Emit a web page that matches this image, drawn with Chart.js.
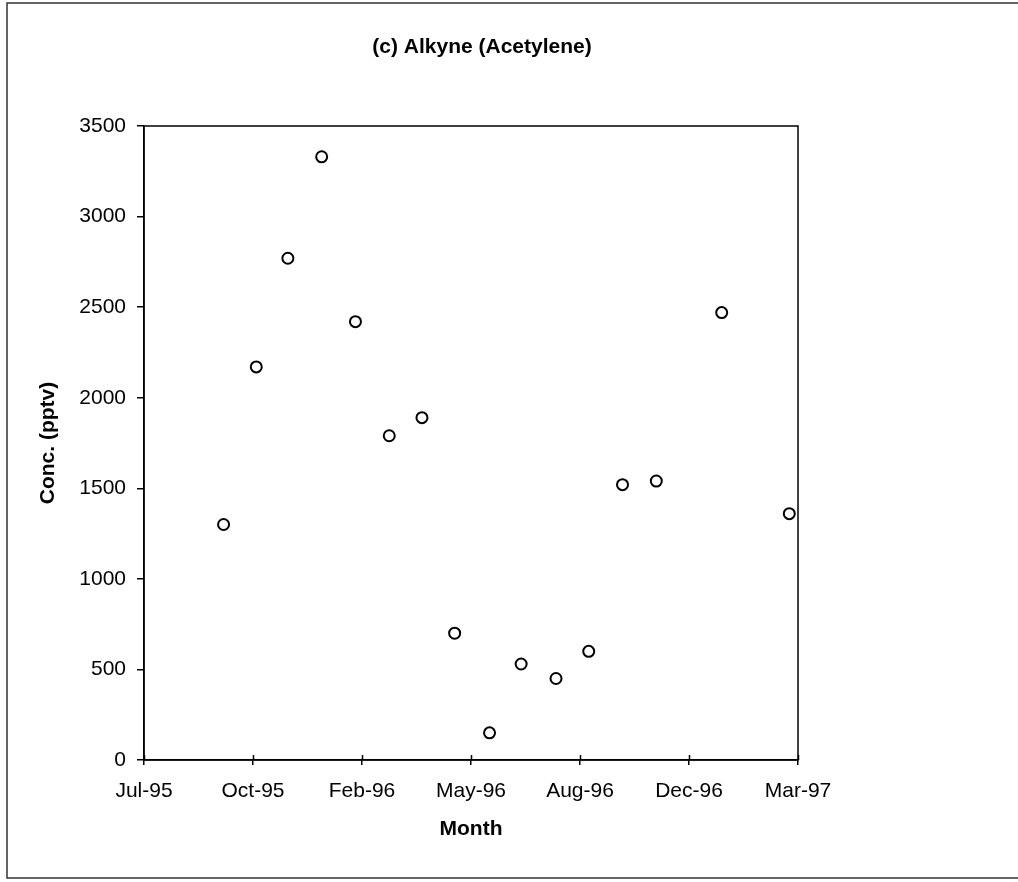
<!DOCTYPE html>
<html>
<head>
<meta charset="utf-8">
<script src="https://cdn.jsdelivr.net/npm/chart.js@4/dist/chart.umd.min.js"></script>
<style>
  html, body { margin: 0; padding: 0; background: #fff; }
  #wrap { width: 1018px; height: 882px; }
</style>
</head>
<body>
<div id="wrap"><canvas id="chart" width="1018" height="882"></canvas></div>
<script>
// days after the Jul-95 tick (axis runs in 100-day steps)
const sampleDays = [73, 103, 132, 163, 194, 225, 255, 285, 317, 346, 378, 408, 439, 470, 530, 592];
const concPptv = [1300, 2170, 2770, 3330, 2420, 1790, 1890, 700, 150, 530, 450, 600, 1520, 1540, 2470, 1360];
const monthTicks = ['Jul-95', 'Oct-95', 'Feb-96', 'May-96', 'Aug-96', 'Dec-96', 'Mar-97'];
const yTicks = [0, 500, 1000, 1500, 2000, 2500, 3000, 3500];

const FONT = 'Liberation Sans, Arial, sans-serif';

// plot box, crossing x ticks and the outer frame of the sheet
const framePlugin = {
  id: 'frame',
  afterDraw(chart) {
    const { ctx, chartArea: a, scales: { x } } = chart;
    ctx.save();
    ctx.strokeStyle = '#000';
    ctx.lineWidth = 1.5;
    ctx.strokeRect(a.left, a.top, a.right - a.left, a.bottom - a.top);
    ctx.beginPath();
    x.ticks.forEach(t => {
      const px = Math.round(x.getPixelForValue(t.value)) + 0.5;
      ctx.moveTo(px, a.bottom);
      ctx.lineTo(px, a.bottom - 5);
    });
    ctx.stroke();
    ctx.strokeStyle = '#333';
    ctx.beginPath();
    ctx.moveTo(1018, 3);
    ctx.lineTo(7, 3);
    ctx.lineTo(7, 878);
    ctx.lineTo(1018, 878);
    ctx.stroke();
    ctx.restore();
  }
};

new Chart(document.getElementById('chart'), {
  type: 'scatter',
  data: {
    datasets: [{
      data: sampleDays.map((d, i) => ({ x: d, y: concPptv[i] })),
      pointStyle: 'circle',
      pointRadius: 5.5,
      pointBorderWidth: 2,
      pointBorderColor: '#000',
      pointBackgroundColor: '#fff',
      showLine: false
    }]
  },
  options: {
    responsive: false,
    animation: false,
    // right padding pulls the title centre over to x~482
    layout: { padding: { left: 0, top: 0, bottom: 0, right: 54 } },
    plugins: {
      legend: { display: false },
      tooltip: { enabled: false },
      title: {
        display: true,
        text: '(c) Alkyne (Acetylene)',
        color: '#000',
        font: { family: FONT, size: 21, weight: 'bold', lineHeight: 1.2 },
        padding: { top: 34.4, bottom: 66.4 }
      }
    },
    scales: {
      x: {
        type: 'linear',
        min: 0,
        max: 600,
        ticks: {
          stepSize: 100,
          autoSkip: false,
          maxRotation: 0,
          padding: 14,
          color: '#000',
          font: { family: FONT, size: 21 },
          callback: v => monthTicks[v / 100]
        },
        grid: { drawOnChartArea: false, tickLength: 5, color: '#000', lineWidth: 1.5 },
        border: { color: '#000', width: 1.5 },
        title: {
          display: true,
          text: 'Month',
          color: '#000',
          font: { family: FONT, size: 21, weight: 'bold', lineHeight: 1.2 },
          padding: { top: 0, bottom: 40.4 }
        },
        afterFit(s) { s.height = 122; }
      },
      y: {
        min: yTicks[0],
        max: yTicks[yTicks.length - 1],
        ticks: {
          stepSize: yTicks[1] - yTicks[0],
          padding: 11,
          color: '#000',
          font: { family: FONT, size: 21 },
          callback: v => String(v)
        },
        grid: { drawOnChartArea: false, tickLength: 7, color: '#000', lineWidth: 1.5 },
        border: { color: '#000', width: 1.5 },
        title: {
          display: true,
          text: 'Conc. (pptv)',
          color: '#000',
          font: { family: FONT, size: 21, weight: 'bold', lineHeight: 1.2 },
          padding: { top: 36, bottom: 0 }
        },
        afterFit(s) { s.width = 144; }
      },
      yRight: {
        position: 'right',
        display: true,
        ticks: { display: false },
        grid: { display: false },
        border: { display: false },
        afterFit(s) { s.width = 166; }
      }
    }
  },
  plugins: [framePlugin]
});
</script>
</body>
</html>
